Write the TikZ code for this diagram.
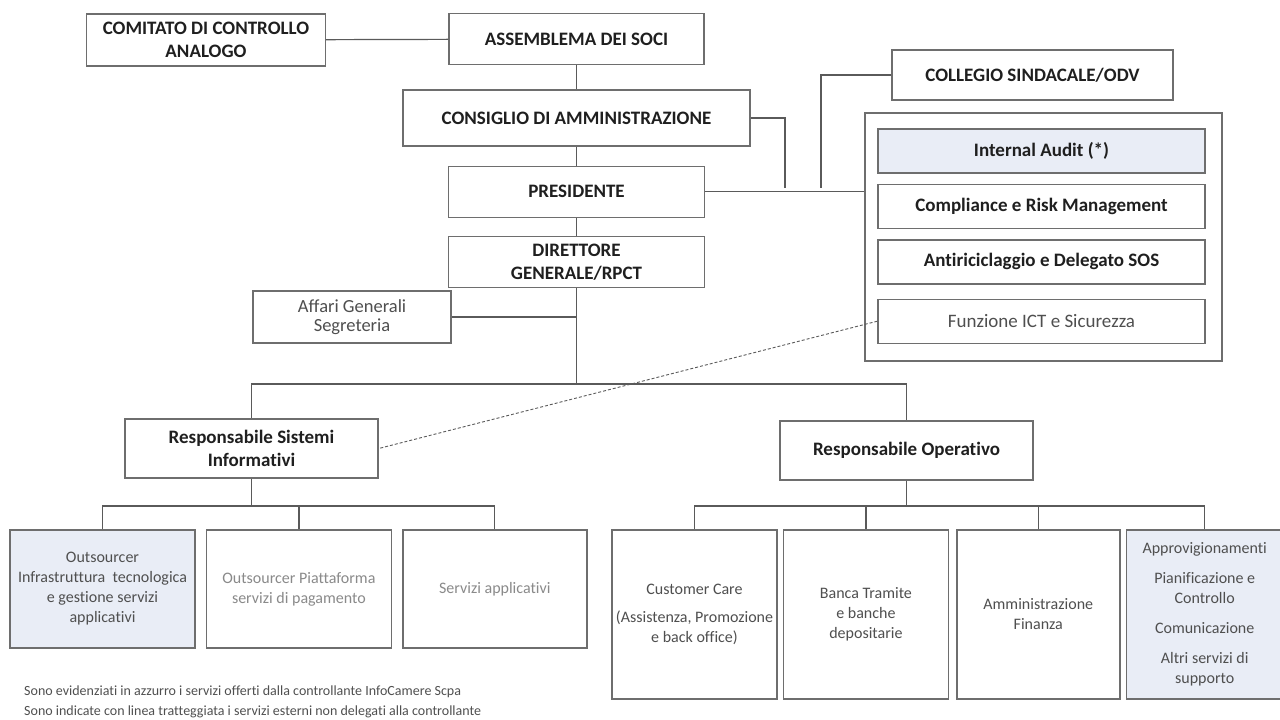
\documentclass[tikz,border=0pt]{standalone}
\usepackage{fontspec}
\setmainfont{Carlito}[Ligatures=NoCommon]
\usepackage{xcolor}
\definecolor{frameGray}{HTML}{6E6E6E}
\definecolor{lineGray}{HTML}{5A5A5A}
\definecolor{holdingBlue}{HTML}{E9EDF6}
\definecolor{softText}{HTML}{4F4F4F}
\definecolor{paleText}{HTML}{8A8A8A}
\usetikzlibrary{positioning}
\tikzset{%
  orgBox/.style={
    rectangle, draw=frameGray, line width=1.4pt, fill=white,
    align=center, text=black!88, inner sep=2pt,
    font=\fontsize{19}{23}\selectfont\bfseries},
  headBox/.style   ={orgBox, minimum height=51pt},
  respBox/.style   ={orgBox, minimum width=253pt, minimum height=59pt},
  ctrlFrame/.style ={rectangle, draw=frameGray, line width=1.4pt,
                     minimum width=357pt, minimum height=248pt},
  ctrlBox/.style   ={orgBox, minimum width=327pt, minimum height=44pt},
  leafBox/.style   ={orgBox, text=softText,
                     font=\fontsize{16}{20}\selectfont},
  holdingBox/.style={leafBox, fill=holdingBlue},
  linkLine/.style  ={draw=lineGray, line width=1.2pt},
  dashLink/.style  ={draw=lineGray, line width=0.9pt, dash pattern=on 3pt off 2pt},
  noteText/.style  ={anchor=west, text=softText, inner sep=0pt,
                     font=\fontsize{14}{16}\selectfont},
}

\begin{document}
\begin{tikzpicture}[x=1pt, y=-1pt]
  \useasboundingbox (0,0) rectangle (1280,720);

  % vertici societari
  \node[headBox, minimum width=255pt] (ass) at (576.5,39) {ASSEMBLEMA DEI SOCI};
  \node[headBox, minimum width=239pt, minimum height=52pt] (com) at (206,40) {COMITATO DI CONTROLLO\\ANALOGO};
  \node[headBox, minimum width=347pt, minimum height=56pt, below=24pt of ass] (cda) {CONSIGLIO DI AMMINISTRAZIONE};
  \node[headBox, minimum width=256pt, below=19pt of cda] (pres) {PRESIDENTE};
  \node[headBox, minimum width=256pt, below=18pt of pres] (dir) {DIRETTORE\\GENERALE/RPCT};
  \node[orgBox, minimum width=198pt, minimum height=52pt, text=softText,
        font=\fontsize{18.5}{19}\selectfont] (aff) at (352,317) {Affari Generali\\Segreteria};
  \node[headBox, minimum width=281pt, minimum height=50pt] (col) at (1032.5,75) {COLLEGIO SINDACALE/ODV};

  % funzioni di controllo
  \node[ctrlFrame] (ctrl) at (1043.5,237) {};
  \node[ctrlBox, fill=holdingBlue] (ia) at (1041.5,151) {Internal Audit (*)};
  \node[ctrlBox, below=10pt of ia]   (comp) {Compliance e Risk Management};
  \node[ctrlBox, below=10pt of comp] (anti) {Antiriciclaggio e Delegato SOS};
  \node[ctrlBox, below=14pt of anti, text=softText,
        font=\fontsize{19}{23}\selectfont] (ict) {Funzione ICT e Sicurezza};

  % responsabili
  \node[respBox] (rsi) at (251.5,448.5) {Responsabile Sistemi\\Informativi};
  \node[respBox] (rop) at (906.5,450.5) {Responsabile Operativo};

  % area sistemi informativi
  \node[holdingBox, minimum width=185pt, minimum height=118pt] (infra) at (102.5,589)
    {Outsourcer\\Infrastruttura\ \ tecnologica\\e gestione servizi\\applicativi};
  \node[leafBox, text=paleText, minimum width=185pt, minimum height=118pt, right=10pt of infra] (pagam)
    {Outsourcer Piattaforma\\servizi di pagamento};
  \node[leafBox, text=paleText, minimum width=184pt, minimum height=118pt, right=10pt of pagam] (appl)
    {Servizi applicativi};

  % area operativa
  \node[leafBox, minimum width=165pt, minimum height=169pt] (cc) at (694.5,614.5)
    {Customer Care\\[8pt](Assistenza, Promozione\\e back office)};
  \node[leafBox, minimum width=165pt, minimum height=169pt, right=5pt of cc] (banca)
    {Banca Tramite\\e banche\\depositarie};
  \node[leafBox, minimum width=163pt, minimum height=169pt, right=7pt of banca] (amm)
    {Amministrazione\\Finanza};
  \node[holdingBox, minimum width=157pt, minimum height=169pt, right=5pt of amm] (appr)
    {Approvigionamenti\\[10pt]Pianificazione e\\Controllo\\[10pt]Comunicazione\\[10pt]Altri servizi di\\supporto};

  % note
  \node[noteText] (nota1) at (24,692)
    {Sono evidenziati in azzurro i servizi offerti dalla controllante InfoCamere Scpa};
  \node[noteText] (nota2) at (24,712)
    {Sono indicate con linea tratteggiata i servizi esterni non delegati alla controllante};

  % collegamenti
  \coordinate (trunk) at (dir.south |- 0,384);
  \coordinate (rsiBus) at (rsi.south |- 0,506);
  \coordinate (ropBus) at (rop.south |- 0,506);
  \draw[linkLine] (com) -- (ass);
  \draw[linkLine] (ass) -- (cda);
  \draw[linkLine] (cda) -- (pres);
  \draw[linkLine] (pres) -- (dir);
  \draw[linkLine] (dir.south) -- (trunk);
  \draw[linkLine] (aff.east) -- (aff.east -| trunk);
  \draw[linkLine] (pres.east) -- (pres.east -| ctrl.west);
  \draw[linkLine] (cda.east) -| (785,188);
  \draw[linkLine] (col.west) -| (821,188);
  \draw[linkLine] (rsi.north) |- (trunk) -| (rop.north);
  \draw[linkLine] (rsi.south) -- (rsiBus);
  \draw[linkLine] (infra.north) |- (rsiBus) -| (appl.north);
  \draw[linkLine] (pagam.north) -- (pagam.north |- rsiBus);
  \draw[linkLine] (rop.south) -- (ropBus);
  \draw[linkLine] (cc.north) |- (ropBus) -| (appr.north);
  \draw[linkLine] (banca.north) -- (banca.north |- ropBus);
  \draw[linkLine] (amm.north) -- (amm.north |- ropBus);
  \draw[dashLink] (ict.west) -- (rsi.east);
\end{tikzpicture}
\end{document}
